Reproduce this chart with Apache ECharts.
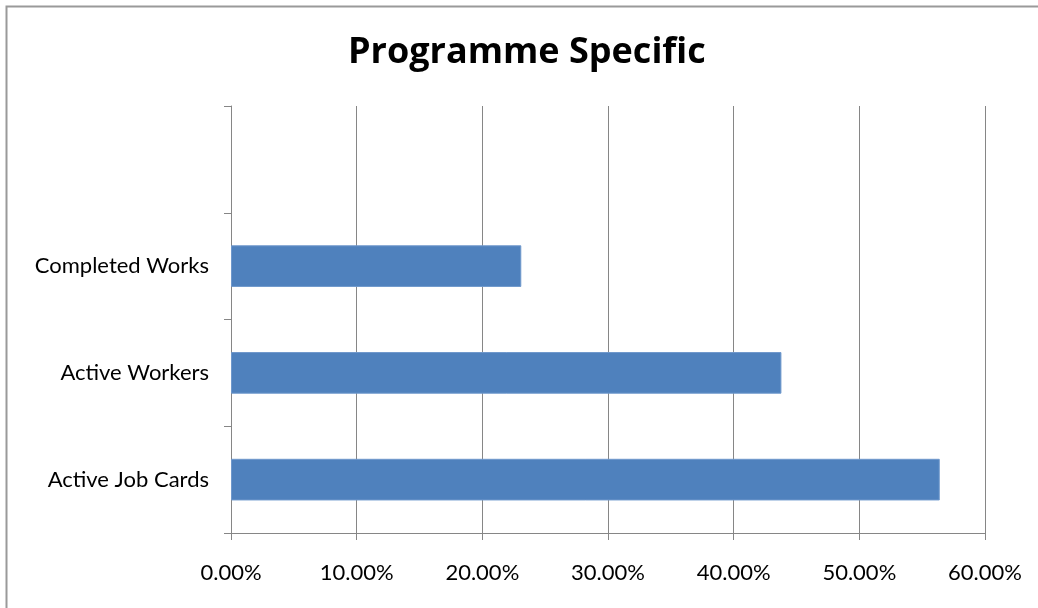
<!DOCTYPE html>
<html>
<head>
<meta charset="utf-8">
<script src="https://cdn.jsdelivr.net/npm/echarts@6/dist/echarts.min.js"></script>
<style>
html,body{margin:0;padding:0;background:#fff;}
#chart{width:1038px;height:608px;}
</style>
</head>
<body>
<div id="chart"></div>
<script>
const titleText = 'Programme Specific';
const categories = ['Active Job Cards', 'Active Workers', 'Completed Works', ''];
const values = [56.4, 43.8, 23.1, null];
const xTicks = { min: 0, max: 60, interval: 10 };

const chart = echarts.init(document.getElementById('chart'));
chart.setOption({
  animation: false,
  backgroundColor: '#fff',
  graphic: [{
    type: 'rect', silent: true,
    shape: { x: 6.5, y: 6.5, width: 1100, height: 700 },
    style: { fill: 'none', stroke: '#9a9a9a', lineWidth: 2 }
  }],
  title: {
    text: titleText, left: 343, top: 30,
    textStyle: { fontFamily: 'Open Sans', fontWeight: 'bold', fontSize: 36, color: '#000' }
  },
  grid: { left: 231, right: 53, top: 106, bottom: 75, containLabel: false },
  xAxis: {
    type: 'value', min: xTicks.min, max: xTicks.max, interval: xTicks.interval,
    axisLine: { show: true, lineStyle: { color: '#868686', width: 1 } },
    axisTick: { show: true, length: 7, lineStyle: { color: '#868686' } },
    splitLine: { show: true, lineStyle: { color: '#868686', width: 1 } },
    axisLabel: {
      formatter: v => v.toFixed(2) + '%', margin: 29,
      fontFamily: 'Lato', fontSize: 22, color: '#000'
    }
  },
  yAxis: {
    type: 'category', data: categories,
    axisLine: { show: true, lineStyle: { color: '#868686', width: 1 } },
    axisTick: { show: true, length: 7, lineStyle: { color: '#868686' } },
    axisLabel: { fontFamily: 'Lato', fontSize: 22, color: '#000', margin: 22 }
  },
  series: [{
    type: 'bar', data: values, barWidth: '39%',
    itemStyle: { color: '#4F81BD', borderColor: '#6f98cc', borderWidth: 1 }
  }]
});
</script>
</body>
</html>
